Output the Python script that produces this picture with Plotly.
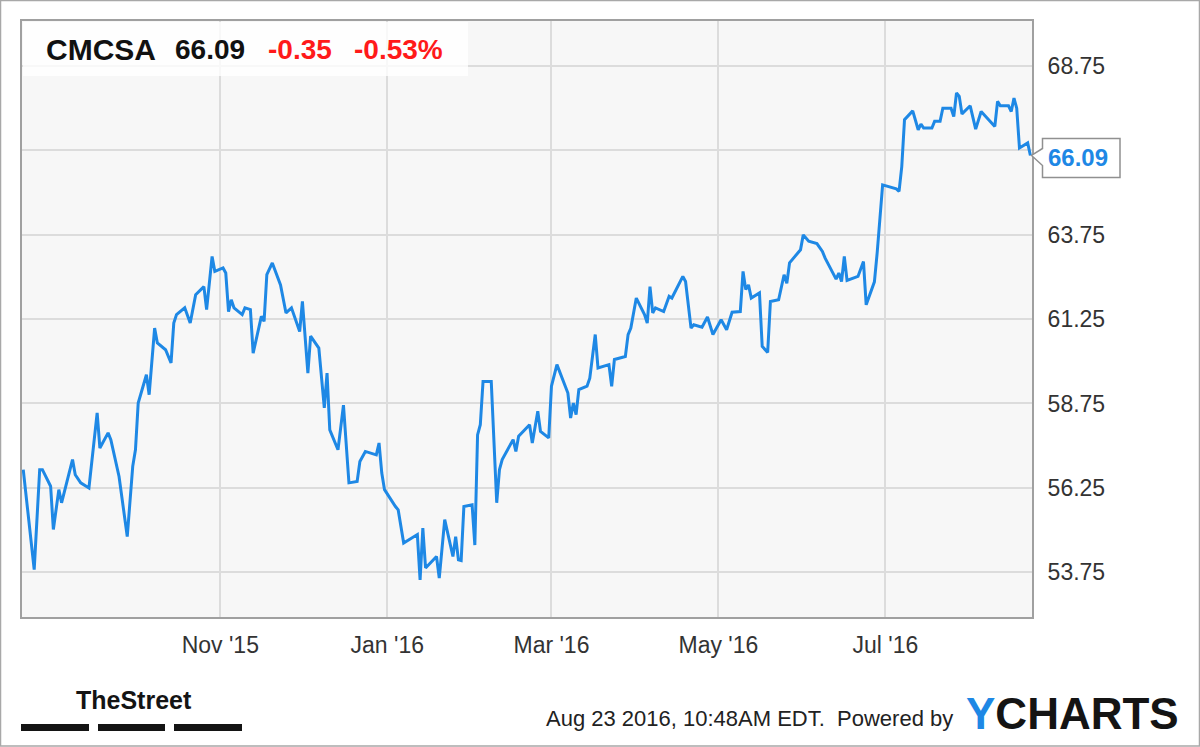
import plotly.graph_objects as go

# ---------------- data ----------------
dates = [
    "2015-08-21", "2015-08-25", "2015-08-27", "2015-08-28", "2015-08-31", "2015-09-01",
    "2015-09-03", "2015-09-04", "2015-09-08", "2015-09-09", "2015-09-11", "2015-09-14",
    "2015-09-17", "2015-09-18", "2015-09-21", "2015-09-22", "2015-09-25", "2015-09-28",
    "2015-09-30", "2015-10-01", "2015-10-02", "2015-10-05", "2015-10-06", "2015-10-08",
    "2015-10-09", "2015-10-12", "2015-10-14", "2015-10-15", "2015-10-16", "2015-10-19",
    "2015-10-21", "2015-10-23", "2015-10-26", "2015-10-27", "2015-10-29", "2015-10-30",
    "2015-11-02", "2015-11-03", "2015-11-04", "2015-11-05", "2015-11-06", "2015-11-09",
    "2015-11-10", "2015-11-12", "2015-11-13", "2015-11-16", "2015-11-17", "2015-11-18",
    "2015-11-20", "2015-11-23", "2015-11-25", "2015-11-27", "2015-11-30", "2015-12-01",
    "2015-12-03", "2015-12-04", "2015-12-07", "2015-12-09", "2015-12-10", "2015-12-11",
    "2015-12-14", "2015-12-16", "2015-12-18", "2015-12-21", "2015-12-22", "2015-12-24",
    "2015-12-28", "2015-12-29", "2015-12-30", "2015-12-31", "2016-01-04", "2016-01-05",
    "2016-01-07", "2016-01-12", "2016-01-13", "2016-01-14", "2016-01-15", "2016-01-19",
    "2016-01-20", "2016-01-22", "2016-01-25", "2016-01-26", "2016-01-27", "2016-01-28",
    "2016-01-29", "2016-02-01", "2016-02-02", "2016-02-03", "2016-02-04", "2016-02-05",
    "2016-02-08", "2016-02-10", "2016-02-11", "2016-02-12", "2016-02-16", "2016-02-17",
    "2016-02-18", "2016-02-22", "2016-02-23", "2016-02-25", "2016-02-26", "2016-02-29",
    "2016-03-01", "2016-03-03", "2016-03-07", "2016-03-08", "2016-03-09", "2016-03-10",
    "2016-03-11", "2016-03-14", "2016-03-15", "2016-03-17", "2016-03-18", "2016-03-22",
    "2016-03-23", "2016-03-24", "2016-03-28", "2016-03-29", "2016-03-30", "2016-04-01",
    "2016-04-04", "2016-04-05", "2016-04-06", "2016-04-07", "2016-04-08", "2016-04-11",
    "2016-04-13", "2016-04-14", "2016-04-18", "2016-04-19", "2016-04-21", "2016-04-22",
    "2016-04-25", "2016-04-27", "2016-04-29", "2016-05-02", "2016-05-04", "2016-05-06",
    "2016-05-09", "2016-05-10", "2016-05-11", "2016-05-12", "2016-05-13", "2016-05-16",
    "2016-05-17", "2016-05-19", "2016-05-20", "2016-05-23", "2016-05-25", "2016-05-26",
    "2016-05-27", "2016-05-31", "2016-06-01", "2016-06-03", "2016-06-06", "2016-06-08",
    "2016-06-09", "2016-06-13", "2016-06-14", "2016-06-15", "2016-06-16", "2016-06-17",
    "2016-06-21", "2016-06-23", "2016-06-24", "2016-06-27", "2016-06-28", "2016-06-30",
    "2016-07-05", "2016-07-06", "2016-07-07", "2016-07-08", "2016-07-11", "2016-07-13",
    "2016-07-14", "2016-07-15", "2016-07-18", "2016-07-19", "2016-07-21", "2016-07-22",
    "2016-07-25", "2016-07-26", "2016-07-27", "2016-07-28", "2016-07-29", "2016-08-01",
    "2016-08-03", "2016-08-05", "2016-08-10", "2016-08-11", "2016-08-12", "2016-08-15",
    "2016-08-16", "2016-08-17", "2016-08-18", "2016-08-19", "2016-08-22", "2016-08-23",
]
prices = [
    56.79, 53.83, 56.79, 56.79, 56.30, 55.02,
    56.20, 55.81, 57.09, 56.64, 56.40, 56.25,
    58.47, 57.43, 57.88, 57.68, 56.59, 54.81,
    56.89, 57.38, 58.76, 59.60, 59.01, 60.98,
    60.54, 60.34, 59.95, 61.13, 61.38, 61.58,
    61.13, 61.97, 62.21, 61.53, 63.10, 62.66,
    62.76, 62.61, 61.47, 61.82, 61.58, 61.38,
    61.58, 61.53, 60.24, 61.33, 61.18, 62.56,
    62.91, 62.26, 61.43, 61.58, 60.88, 61.77,
    59.65, 60.74, 60.39, 58.62, 59.65, 57.97,
    57.38, 58.70, 56.40, 56.44, 57.03, 57.33,
    57.23, 57.58, 56.69, 56.20, 55.70, 55.60,
    54.62, 54.87, 53.53, 55.06, 53.88, 54.22,
    53.58, 55.31, 54.22, 54.81, 54.12, 54.10,
    55.70, 55.75, 54.56, 57.82, 58.12, 59.40,
    59.40, 55.81, 56.79, 57.09, 57.68, 57.33,
    57.78, 58.12, 57.58, 58.52, 57.92, 57.73,
    59.26, 59.90, 59.06, 58.32, 58.76, 58.42,
    59.16, 59.26, 59.50, 60.79, 59.80, 59.90,
    59.26, 60.05, 60.14, 60.79, 60.98, 61.87,
    61.38, 61.13, 62.21, 61.43, 61.58, 61.47,
    61.92, 61.87, 62.51, 62.36, 60.98, 61.08,
    61.01, 61.31, 60.79, 61.23, 60.93, 61.45,
    61.47, 62.66, 62.12, 62.26, 61.87, 62.02,
    60.44, 60.26, 61.77, 61.82, 62.56, 62.31,
    62.91, 63.30, 63.74, 63.55, 63.48, 63.25,
    63.05, 62.43, 62.61, 62.36, 63.10, 62.39,
    62.51, 62.95, 61.67, 62.35, 63.20, 65.22,
    65.10, 65.03, 65.76, 67.15, 67.41, 66.85,
    67.02, 66.90, 66.90, 67.10, 67.10, 67.49,
    67.49, 67.24, 67.94, 67.84, 67.32, 67.56,
    66.87, 67.39, 66.95, 67.69, 67.56, 67.56,
    67.39, 67.79, 67.49, 66.31, 66.46, 66.09,
]

x_tick_vals = ["2015-11-01", "2016-01-01", "2016-03-01", "2016-05-01", "2016-07-01"]
x_tick_text = ["Nov '15", "Jan '16", "Mar '16", "May '16", "Jul '16"]
y_tick_vals = [53.75, 56.25, 58.75, 61.25, 63.75, 66.25, 68.75]
y_tick_text = ["53.75", "56.25", "58.75", "61.25", "63.75", "66.25", "68.75"]

ticker = "CMCSA"
last_price = "66.09"
change = "-0.35"
change_pct = "-0.53%"
timestamp = "Aug 23 2016, 10:48AM EDT.  Powered by"

# ---------------- layout geometry (pixels) ----------------
W, H = 1200, 747
L, R, T, B = 22, 1032, 21, 617   # plot area edges in pixels
Y_RANGE = [52.43, 70.07]


def px(x):
    return (x - L) / (R - L)


def py(y):
    return (B - y) / (B - T)


LINE_BLUE = "#1e88e5"
GRID = "#dcdcdc"
FONT = "Liberation Sans, Arial, sans-serif"

last_y = prices[-1]
# the tick label hidden behind the last-value callout is not shown (as in the reference)
y_labels_shown = ["" if abs(v - last_y) < 0.6 else t for v, t in zip(y_tick_vals, y_tick_text)]

fig = go.Figure()
fig.add_trace(go.Scatter(
    x=dates, y=prices, mode="lines",
    line=dict(color=LINE_BLUE, width=3),
    hoverinfo="skip", showlegend=False,
))

fig.update_layout(
    width=W, height=H,
    margin=dict(l=L, r=W - R, t=T, b=H - B, pad=0),
    paper_bgcolor="white",
    plot_bgcolor="#f7f7f7",
    font=dict(family=FONT, color="#333333"),
    showlegend=False,
    xaxis=dict(
        type="date",
        range=["2015-08-20 13:00", "2016-08-23 14:00"],
        tickmode="array", tickvals=x_tick_vals, ticktext=x_tick_text,
        tickfont=dict(size=23, color="#333333", family=FONT),
        showgrid=True, gridcolor=GRID, gridwidth=2,
        showline=True, linecolor="#a0a0a0", linewidth=2, mirror=True,
        ticks="", zeroline=False, fixedrange=True,
        ticklabelstandoff=6,
    ),
    yaxis=dict(
        side="right",
        range=Y_RANGE,
        tickmode="array", tickvals=y_tick_vals, ticktext=y_labels_shown,
        tickfont=dict(size=23, color="#333333", family=FONT),
        showgrid=True, gridcolor=GRID, gridwidth=2,
        showline=True, linecolor="#a0a0a0", linewidth=2, mirror=True,
        ticks="", zeroline=False, fixedrange=True,
        ticklabelstandoff=9,
    ),
)

shapes = []
# header box (semi-transparent white)
shapes.append(dict(type="rect", xref="paper", yref="paper",
                   x0=px(L + 1), x1=px(468), y0=py(76), y1=py(T + 1),
                   fillcolor="rgba(255,255,255,0.8)", line=dict(width=0), layer="above"))
# callout box with a pointer to the last value
upp = (Y_RANGE[1] - Y_RANGE[0]) / (B - T)  # value units per pixel
bx0, bx1 = px(1042.5), px(1120)
path = (f"M {px(1031.5)} {last_y} "
        f"L {bx0} {last_y + 7 * upp} "
        f"L {bx0} {last_y + 17 * upp} "
        f"L {bx1} {last_y + 17 * upp} "
        f"L {bx1} {last_y - 22 * upp} "
        f"L {bx0} {last_y - 22 * upp} "
        f"L {bx0} {last_y - 10 * upp} Z")
shapes.append(dict(type="path", xref="paper", yref="y", path=path,
                   fillcolor="white", line=dict(color="#909090", width=1.5), layer="above"))
# outer frame of the picture
shapes.append(dict(type="rect", xref="paper", yref="paper",
                   x0=px(0.5), x1=px(W - 0.5), y0=py(H - 1), y1=py(0.5),
                   line=dict(color="#a8a8a8", width=1.5), fillcolor="rgba(0,0,0,0)"))
# TheStreet bars
for a, b in [(21, 89), (98, 165), (174, 242)]:
    shapes.append(dict(type="rect", xref="paper", yref="paper",
                       x0=px(a), x1=px(b), y0=py(731), y1=py(724),
                       fillcolor="#141414", line=dict(width=0)))
fig.update_layout(shapes=shapes)

ann = []
hdr_y = py(49)
for txt, x, col, sz in [(ticker, 44, "#111111", 30), (last_price, 173, "#111111", 28),
                        (change, 266, "#ff1a1a", 28), (change_pct, 352, "#ff1a1a", 28)]:
    ann.append(dict(text=f"<b>{txt}</b>", xref="paper", yref="paper", x=px(x), y=hdr_y,
                    xanchor="left", yanchor="middle", showarrow=False,
                    font=dict(size=sz, color=col, family=FONT)))
# callout text
ann.append(dict(text=f"<b>{last_price}</b>", xref="paper", yref="y",
                x=px(1046), y=last_y - 2.5 * upp, xanchor="left", yanchor="middle", showarrow=False,
                font=dict(size=24, color="#1e88e5", family=FONT)))
# footer
ann.append(dict(text="<b>TheStreet</b>", xref="paper", yref="paper", x=px(74), y=py(700),
                xanchor="left", yanchor="middle", showarrow=False,
                font=dict(size=25, color="#141414", family=FONT)))
ann.append(dict(text=timestamp, xref="paper", yref="paper", x=px(544), y=py(718),
                xanchor="left", yanchor="middle", showarrow=False,
                font=dict(size=22, color="#222222", family=FONT)))
ann.append(dict(text="<b><span style='color:#1e88e5'>Y</span>CHARTS</b>", xref="paper", yref="paper",
                x=px(964), y=py(713), xanchor="left", yanchor="middle", showarrow=False,
                font=dict(size=44, color="#141414", family=FONT)))
fig.update_layout(annotations=ann)

fig.write_html("out.html",
               config={"displayModeBar": False, "staticPlot": True},
               post_script="document.body.style.margin='0';document.body.style.overflow='hidden';")
